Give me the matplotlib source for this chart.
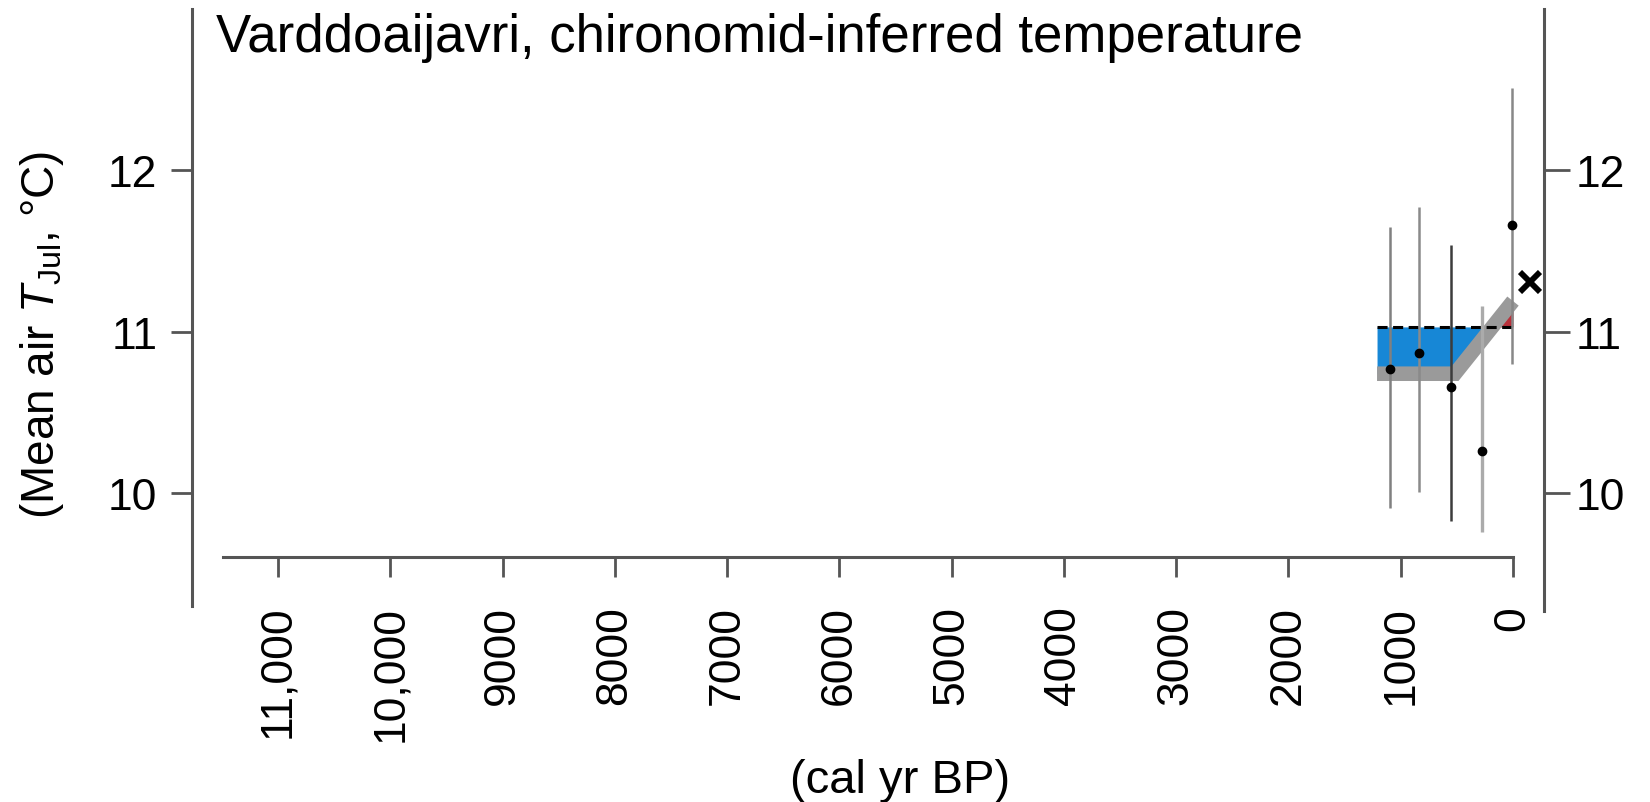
import matplotlib
matplotlib.use("Agg")
import matplotlib.pyplot as plt

plt.rcParams['font.family'] = ['Liberation Sans', 'DejaVu Sans']
plt.rcParams['mathtext.fontset'] = 'custom'
plt.rcParams['mathtext.rm'] = 'Liberation Sans'
plt.rcParams['mathtext.it'] = 'Liberation Sans:italic'

# Données (âge cal BP, température juillet °C)
sample_age = [1096, 837, 552, 276, 10]
sample_temp = [10.77, 10.87, 10.66, 10.26, 11.66]
err_low = [9.91, 10.01, 9.83, 9.76, 10.80]
err_high = [11.65, 11.77, 11.54, 11.16, 12.51]

smooth_age = [1211, 517, 0]
smooth_temp = [10.74, 10.74, 11.19]

ref_temp = 11.03
ref_age = [1211, 0]

modern_age = [-150]
modern_temp = [11.31]

xticks = [11000, 10000, 9000, 8000, 7000, 6000, 5000, 4000, 3000, 2000, 1000, 0]
xticklabels = ['11,000', '10,000', '9000', '8000', '7000', '6000', '5000',
               '4000', '3000', '2000', '1000', '0']
yticks = [10, 11, 12]

bar_colors = ['#808080', '#8a8a8a', '#3c3c3c', '#ababab', '#888888']
bar_widths = [1.8, 1.8, 1.8, 2.4, 1.8]

spine_col = '#555555'

fig = plt.figure(figsize=(16.5, 8.03), dpi=100)
ax = fig.add_axes([0.11636, 0.2379, 0.81939, 0.7497])
ax.set_xlim(11766, -276)
ax.set_ylim(9.27, 13.0)

# remplissage froid / chaud par rapport à la référence
ax.fill_between(smooth_age, smooth_temp, ref_temp,
                where=[t <= ref_temp for t in smooth_temp], interpolate=True,
                color='#1787d6', lw=0, zorder=1)
ax.fill_between(smooth_age, smooth_temp, ref_temp,
                where=[t >= ref_temp for t in smooth_temp], interpolate=True,
                color='#b8303a', lw=0, zorder=1)
ax.plot(smooth_age, smooth_temp, color='#9a9a9a', lw=10.5,
        solid_capstyle='butt', solid_joinstyle='miter', zorder=2)
ax.plot(ref_age, [ref_temp, ref_temp], color='black', lw=2.2,
        dashes=(3.3, 1.8), zorder=3)

# barres d'erreur
for a, lo, hi, c, w in zip(sample_age, err_low, err_high, bar_colors, bar_widths):
    ax.vlines(a, lo, hi, color=c, lw=w, zorder=4)
ax.plot(sample_age, sample_temp, 'o', color='black', ms=6, zorder=5)

ax.plot(modern_age, modern_temp, 'x', color='black', ms=14, mew=4.2, zorder=6)

# axes
ax.spines['top'].set_visible(False)
ax.spines['right'].set_visible(False)
ax.spines['left'].set_bounds(9.30, 13.0)
ax.spines['bottom'].set_position(('data', 9.604))
ax.spines['bottom'].set_bounds(0, 11490)
for s in ['left', 'bottom']:
    ax.spines[s].set_linewidth(2.2)
    ax.spines[s].set_color(spine_col)

ax.set_xticks(xticks)
ax.set_xticklabels(xticklabels, rotation=90)
ax.set_yticks(yticks)
ax.tick_params(axis='x', direction='out', length=14.4, width=2, color=spine_col,
               pad=20, labelsize=32)
ax.tick_params(axis='y', direction='out', length=15, width=2, color=spine_col,
               pad=10, labelsize=32)

ax2 = ax.twinx()
ax2.set_ylim(9.27, 13.0)
for s in ['top', 'left', 'bottom']:
    ax2.spines[s].set_visible(False)
ax2.spines['right'].set_bounds(9.27, 13.0)
ax2.spines['right'].set_linewidth(2.2)
ax2.spines['right'].set_color(spine_col)
ax2.set_yticks(yticks)
ax2.tick_params(axis='y', direction='out', length=18.7, width=2, color=spine_col,
                pad=4, labelsize=32)

fig.text(216 / 1650, 1 - 52 / 803, 'Varddoaijavri, chironomid-inferred temperature',
         fontsize=38, ha='left', va='baseline')
fig.text(42 / 1650, 1 - 334.5 / 803, r'(Mean air $T_{\mathrm{Jul}}$, °C)',
         fontsize=33, rotation=90, ha='center', va='center')
fig.text(900 / 1650, 1 - 781 / 803, '(cal yr BP)', fontsize=34,
         ha='center', va='center')

fig.savefig('out.png', dpi=100)
